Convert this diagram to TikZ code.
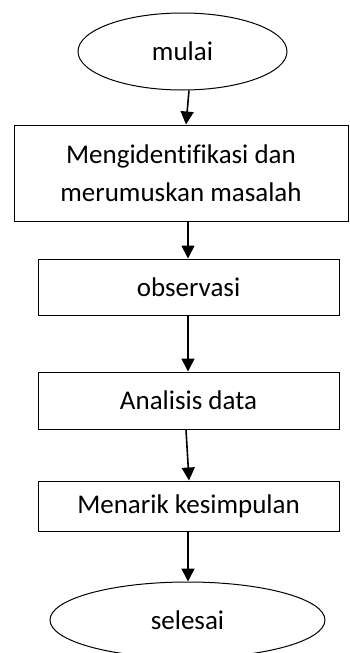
\documentclass[tikz,border=0pt]{standalone}
\usepackage{fontspec}
\setmainfont[Ligatures=NoCommon]{Carlito}
\usetikzlibrary{shapes.geometric}
\usetikzlibrary{arrows.meta}

\begin{document}
\begin{tikzpicture}[x=1pt, y=-1pt,
  txt/.style={font=\fontsize{27}{38}\selectfont, inner sep=0pt, align=center},
  kotak/.style={txt, draw, line width=1pt, rectangle},
  oval/.style={txt, draw, line width=1pt, ellipse},
  panah/.style={line width=1.6pt, -{Triangle[width=13pt, length=13pt]}}]
\useasboundingbox (0,0) rectangle (349,653);
\node [oval, minimum width=209pt, minimum height=77pt] (mulai) at (182.5, 51.5) {mulai};
\node [kotak, minimum width=334pt, minimum height=96pt] (ident) at (181, 173) {Mengidentifikasi dan\\merumuskan masalah};
\node [kotak, minimum width=301pt, minimum height=56pt] (obs) at (188.5, 287) {observasi};
\node [kotak, minimum width=301pt, minimum height=57pt] (analisis) at (188.5, 400.5) {Analisis data};
\node [kotak, minimum width=301pt, minimum height=50pt] (simpul) at (188.5, 506) {Menarik kesimpulan};
\node [oval, minimum width=275pt, minimum height=76pt] (selesai) at (187.5, 620) {selesai};
\draw [panah] ([xshift=6.5]mulai.south) -- ([xshift=5]ident.north);
\draw [panah] ([xshift=7]ident.south) -- ([xshift=-0.5]obs.north);
\draw [panah] ([xshift=-0.5]obs.south) -- ([xshift=-0.5]analisis.north);
\draw [panah] ([xshift=-2.5]analisis.south) -- ([xshift=0.5]simpul.north);
\draw [panah] ([xshift=-0.5]simpul.south) -- ([xshift=0.5]selesai.north);
\end{tikzpicture}
\end{document}
